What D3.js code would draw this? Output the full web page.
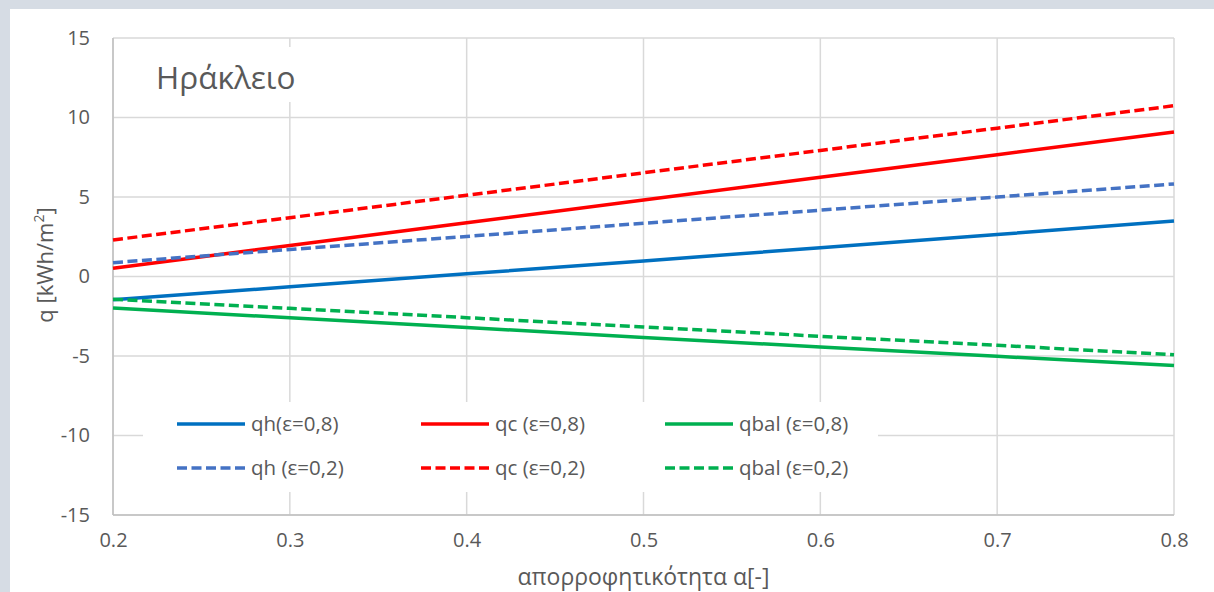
<!DOCTYPE html>
<html><head><meta charset="utf-8">
<script src="https://d3js.org/d3.v7.min.js"></script>
<style>
html,body{margin:0;padding:0;background:#d6dce4;}
svg{display:block;}
text{font-family:"Open Sans","Liberation Sans",sans-serif;fill:#595959;}
</style></head>
<body>
<svg id="c" width="1214" height="592"></svg>
<script>
const alphas = [0.2, 0.3, 0.4, 0.5, 0.6, 0.7, 0.8];
const qh08   = [-1.46, -0.65, 0.17, 0.98, 1.81, 2.64, 3.49];
const qc08   = [0.52, 1.95, 3.38, 4.81, 6.24, 7.66, 9.09];
const qbal08 = [-1.98, -2.60, -3.21, -3.83, -4.43, -5.02, -5.60];
const qh02   = [0.87, 1.70, 2.52, 3.35, 4.17, 5.00, 5.82];
const qc02   = [2.30, 3.70, 5.11, 6.52, 7.93, 9.33, 10.74];
const qbal02 = [-1.43, -2.00, -2.59, -3.17, -3.76, -4.33, -4.92];
const seriesNames = ["qh(ε=0,8)", "qc (ε=0,8)", "qbal (ε=0,8)", "qh (ε=0,2)", "qc (ε=0,2)", "qbal (ε=0,2)"];
const xTicks = [0.2, 0.3, 0.4, 0.5, 0.6, 0.7, 0.8];
const yTicks = [-15, -10, -5, 0, 5, 10, 15];
const chartTitle = "Ηράκλειο";
const xTitle = "απορροφητικότητα α[-]";

const FONT = "Open Sans, Liberation Sans, sans-serif";
const svg = d3.select("#c");
svg.append("rect").attr("x",10).attr("y",9).attr("width",1204).attr("height",583).attr("fill","#fff");

const L=113,R=1174,T=38,B=515;
const x = d3.scaleLinear().domain([0.2,0.8]).range([L,R]);
const y = d3.scaleLinear().domain([-15,15]).range([B,T]);
const grid = "#d9d9d9";

const g = svg.append("g");
g.selectAll(".hg").data(yTicks).join("line").attr("x1",L).attr("x2",R)
 .attr("y1",d=>y(d)).attr("y2",d=>y(d)).attr("stroke",grid).attr("stroke-width",1.5);
g.selectAll(".vg").data(xTicks).join("line").attr("y1",T).attr("y2",B)
 .attr("x1",d=>x(d)).attr("x2",d=>x(d)).attr("stroke",grid).attr("stroke-width",1.5);
g.append("line").attr("x1",L).attr("x2",R).attr("y1",B).attr("y2",B).attr("stroke","#bfbfbf").attr("stroke-width",1.5);
g.append("line").attr("x1",L).attr("x2",L).attr("y1",T).attr("y2",B).attr("stroke","#bfbfbf").attr("stroke-width",1.5);

const ya = svg.append("g").attr("transform",`translate(${L},0)`)
 .call(d3.axisLeft(y).tickValues(yTicks).tickSize(0).tickPadding(23).tickFormat(d=>String(d)));
ya.select(".domain").remove();
ya.selectAll("text").attr("font-size",20).attr("font-family",FONT).attr("fill","#595959");
const xa = svg.append("g").attr("transform",`translate(0,${B})`)
 .call(d3.axisBottom(x).tickValues(xTicks).tickSize(0).tickPadding(18).tickFormat(d3.format(".1f")));
xa.select(".domain").remove();
xa.selectAll("text").attr("font-size",20).attr("font-family",FONT).attr("fill","#595959");

svg.append("text").attr("x",(L+R)/2).attr("y",585).attr("text-anchor","middle").attr("font-size",23).text(xTitle);
const yt = svg.append("text").attr("transform",`translate(53,265) rotate(-90)`).attr("text-anchor","middle").attr("font-size",22);
yt.append("tspan").text("q [kWh/m");
yt.append("tspan").attr("font-size",14).attr("dy",-9).text("2");
yt.append("tspan").attr("dy",9).text("]");

svg.append("rect").attr("x",145).attr("y",47).attr("width",165).attr("height",55).attr("fill","#fff");
svg.append("text").attr("x",156).attr("y",89).attr("font-size",31.5).text(chartTitle);

const cols = ["#0070C0","#FF0000","#00B050","#4472C4","#FF0000","#00B050"];
const dataSets = [qh08,qc08,qbal08,qh02,qc02,qbal02];
const line = d3.line().x((d,i)=>x(alphas[i])).y(d=>y(d));
dataSets.forEach((ds,k)=>{
  svg.append("path").datum(ds).attr("d",line).attr("fill","none")
   .attr("stroke",cols[k]).attr("stroke-width",3.5)
   .attr("stroke-dasharray",k>=3?"10,4.5":null);
});

svg.append("rect").attr("x",143).attr("y",402).attr("width",735).attr("height",90).attr("fill","#fff");
const colX=[177,421,665], rowY=[424,468];
seriesNames.forEach((n,k)=>{
  const cx=colX[k%3], ry=rowY[Math.floor(k/3)];
  svg.append("line").attr("x1",cx).attr("x2",cx+68).attr("y1",ry).attr("y2",ry)
   .attr("stroke",cols[k]).attr("stroke-width",3.5).attr("stroke-dasharray",k>=3?"10,4.5":null);
  svg.append("text").attr("x",cx+74).attr("y",ry+7).attr("font-size",20.5).text(n);
});
</script>
</body></html>
